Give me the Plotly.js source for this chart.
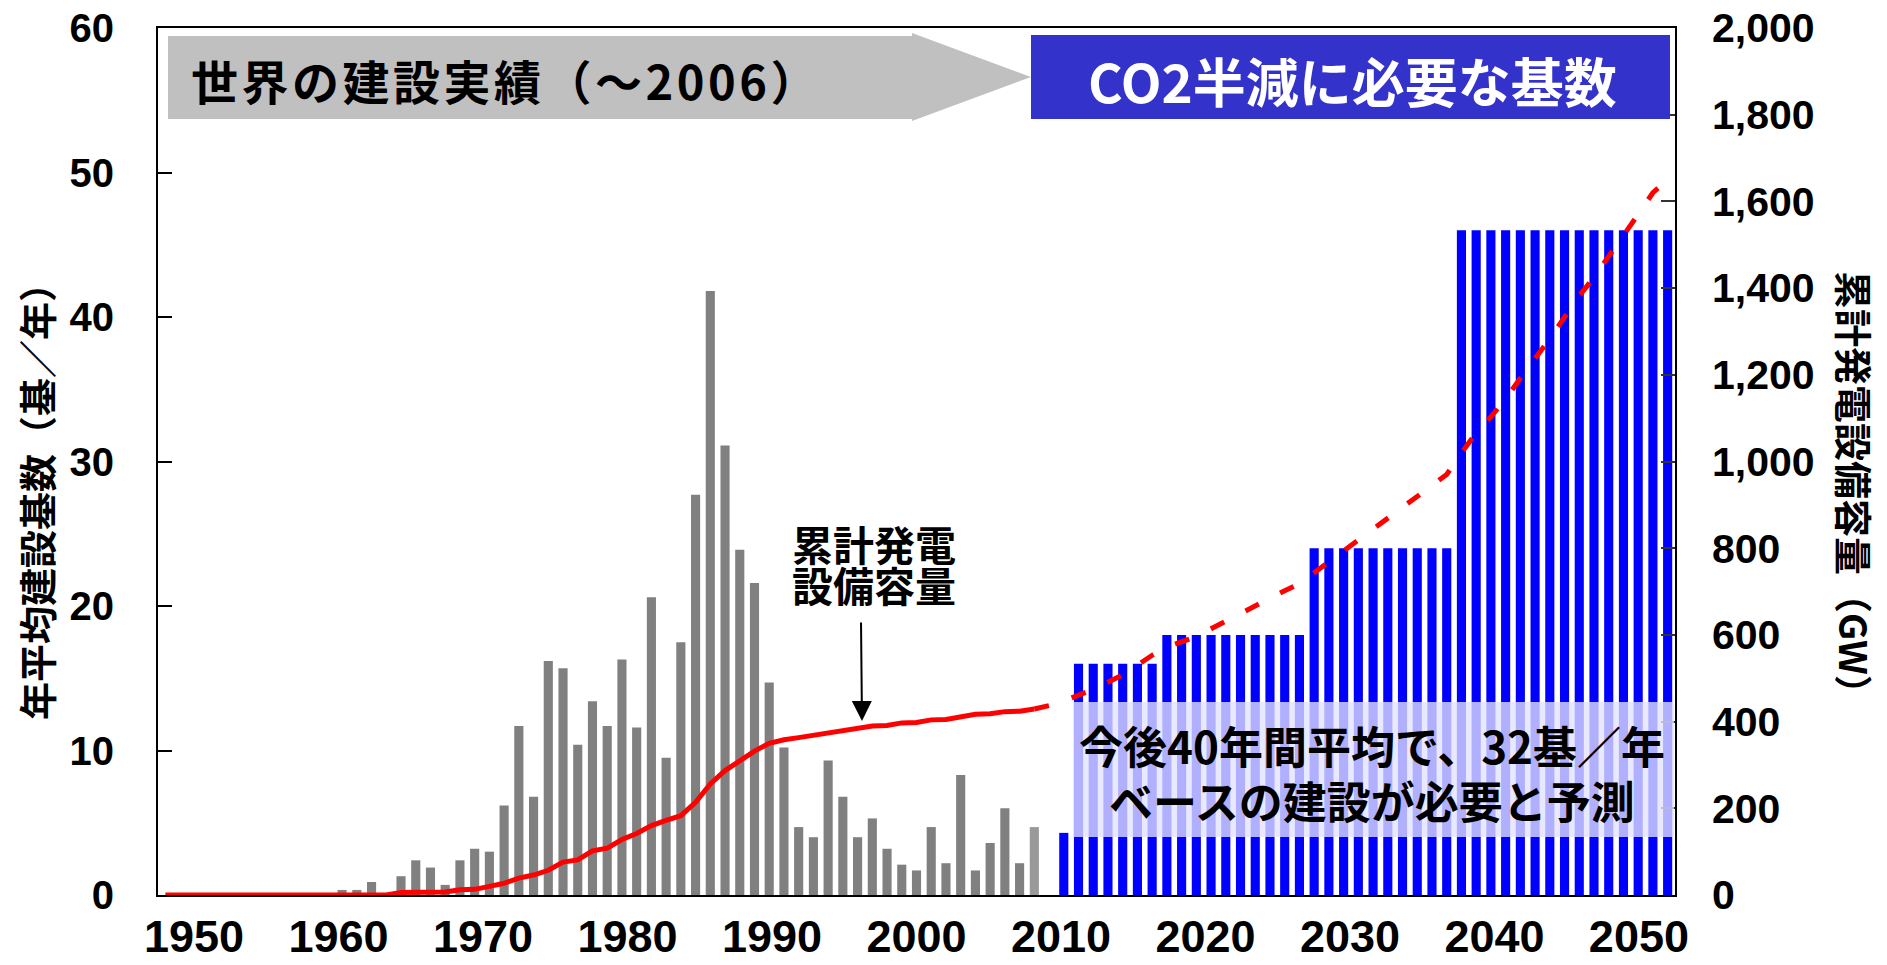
<!DOCTYPE html>
<html>
<head>
<meta charset="utf-8">
<script src="https://cdn.plot.ly/plotly-3.0.1.min.js"></script>
<style>
  html, body { margin: 0; padding: 0; background: #ffffff; }
  #chart { width: 1887px; height: 965px; }
</style>
</head>
<body>
<div id="chart"></div>
<script>
// ---------- data ----------
const actualYears = [1960,1961,1962,1963,1964,1965,1966,1967,1968,1969,
  1970,1971,1972,1973,1974,1975,1976,1977,1978,1979,
  1980,1981,1982,1983,1984,1985,1986,1987,1988,1989,
  1990,1991,1992,1993,1994,1995,1996,1997,1998,1999,
  2000,2001,2002,2003,2004,2005,2006,2007];
const actualUnits = [0.35,0.35,0.9,0,1.3,2.4,1.9,0.7,2.4,3.2,
  3.0,6.2,11.7,6.8,16.2,15.7,10.4,13.4,11.7,16.3,
  11.6,20.6,9.5,17.5,27.7,41.8,31.1,23.9,21.6,14.7,
  10.2,4.7,4.0,9.3,6.8,4.0,5.3,3.2,2.1,1.7,
  4.7,2.2,8.3,1.7,3.6,6.0,2.2,4.7];

const planYears = [2009,2010,2011,2012,2013,2014,2015,2016,2017,2018,2019,
  2020,2021,2022,2023,2024,2025,2026,2027,2028,2029,
  2030,2031,2032,2033,2034,2035,2036,2037,2038,2039,
  2040,2041,2042,2043,2044,2045,2046,2047,2048,2049,2050];
const planUnits = [4.3,16,16,16,16,16,16,18,18,18,18,
  18,18,18,18,18,18,24,24,24,24,
  24,24,24,24,24,24,46,46,46,46,
  46,46,46,46,46,46,46,46,46,46,46];

const capYears = [1948,1949,1950,1951,1952,1953,1954,1955,1956,1957,1958,1959,
  1960,1961,1962,1963,1964,1965,1966,1967,1968,1969,
  1970,1971,1972,1973,1974,1975,1976,1977,1978,1979,
  1980,1981,1982,1983,1984,1985,1986,1987,1988,1989,
  1990,1991,1992,1993,1994,1995,1996,1997,1998,1999,
  2000,2001,2002,2003,2004,2005,2006,2007];
const capGW = [0,0,0,0,0,0,0,0,0,0,0,0,
  0,0,0,0,6,6,6,7,12,13,
  20,27,39,46,57,76,81,102,108,128,
  142,160,172,183,214,256,287,310,332,350,
  358,363,368,373,378,384,390,391,397,398,
  404,405,411,417,418,423,424,429];

const forecastYears = [2007,2008,2009,2010,2011,2012,2013,2014,2015,2016,2017,2018,2019,
  2020,2021,2022,2023,2024,2025,2026,2027,2028,2029,
  2030,2031,2032,2033,2034,2035,2036,2037,2038,2039,
  2040,2041,2042,2043,2044,2045,2046,2047,2048,2049,2050];
const forecastGW = [429,437,448,461,474,491,508,530,553,572,584,596,614,
  632,650,667,685,702,718,743,767,792,817,
  843,869,894,920,945,970,1020,1066,1103,1145,
  1192,1237,1283,1333,1382,1425,1472,1520,1570,1620,1650];

const xTickText = ['1950','1960','1970','1980','1990','2000','2010','2020','2030','2040','2050'];

// ---------- geometry helpers (pixel -> paper) ----------
const L = 158, R = 1675, T = 28, B = 895;
const px = x => (x - L) / (R - L);
const py = y => (B - y) / (B - T);

// the reference's year labels are spread slightly tighter than the bar categories
const LABEL_START = 1949.95, LABEL_STEP = 9.81;
const xTickPos = xTickText.map((t, i) => LABEL_START + i * LABEL_STEP);

const JP = '"Noto Sans CJK JP", "Noto Sans", sans-serif';
const NUM = '"Liberation Sans", Arial, sans-serif';

const grayColors = actualYears.map(y => y === 2007 ? '#999999' : '#808080');

const traces = [
  { type: 'bar', x: actualYears, y: actualUnits, width: 0.62,
    marker: { color: grayColors, line: { width: 0 } }, hoverinfo: 'skip', yaxis: 'y' },
  { type: 'bar', x: planYears, y: planUnits, width: 0.62,
    marker: { color: '#0000FF', line: { width: 0 } }, hoverinfo: 'skip', yaxis: 'y' },
  { type: 'scatter', mode: 'lines', x: capYears, y: capGW, yaxis: 'y2',
    line: { color: '#FF0000', width: 5 }, hoverinfo: 'skip' },
  { type: 'scatter', mode: 'lines', x: forecastYears, y: forecastGW, yaxis: 'y2',
    line: { color: '#FF0000', width: 5, dash: '15px,24px' }, hoverinfo: 'skip' }
];

const grayArrowPath = 'M ' + px(168) + ',' + py(36) +
  ' L ' + px(912) + ',' + py(36) +
  ' L ' + px(912) + ',' + py(33) +
  ' L ' + px(1031) + ',' + py(77) +
  ' L ' + px(912) + ',' + py(121) +
  ' L ' + px(912) + ',' + py(119) +
  ' L ' + px(168) + ',' + py(119) + ' Z';

const layout = {
  width: 1887, height: 965,
  margin: { l: L, r: 1887 - R, t: T, b: 965 - B, pad: 0 },
  paper_bgcolor: '#ffffff', plot_bgcolor: '#ffffff',
  showlegend: false,
  barmode: 'overlay',
  xaxis: {
    range: [1947.5, 2050.5], showgrid: false, zeroline: false,
    showline: true, linecolor: '#000000', linewidth: 2, mirror: true,
    ticks: '', tickmode: 'array', tickvals: xTickPos, ticktext: xTickText,
    tickfont: { family: NUM, size: 45, color: '#000000', weight: 700 },
    ticklabelstandoff: 1
  },
  yaxis: {
    range: [0, 60], dtick: 10, tick0: 0, showgrid: false, zeroline: false,
    showline: true, linecolor: '#000000', linewidth: 2, mirror: true,
    ticks: 'inside', ticklen: 14, tickwidth: 2, tickcolor: '#000000',
    tickfont: { family: NUM, size: 40, color: '#000000', weight: 700 },
    ticklabelstandoff: 34
  },
  yaxis2: {
    overlaying: 'y', side: 'right', range: [0, 2000], dtick: 200, tick0: 0,
    showgrid: false, zeroline: false, showline: false,
    ticks: 'inside', ticklen: 14, tickwidth: 2, tickcolor: '#333333',
    tickformat: ',d',
    tickfont: { family: NUM, size: 41, color: '#000000', weight: 700 },
    ticklabelstandoff: 36
  },
  shapes: [
    { type: 'path', xref: 'paper', yref: 'paper', path: grayArrowPath,
      fillcolor: '#C0C0C0', line: { width: 0 }, layer: 'above' },
    { type: 'rect', xref: 'paper', yref: 'paper', x0: px(1031), x1: px(1670), y0: py(119), y1: py(35),
      fillcolor: '#3333CC', line: { width: 0 }, layer: 'above' },
    { type: 'rect', xref: 'paper', yref: 'paper', x0: px(1073), x1: px(1674), y0: py(837), y1: py(702),
      fillcolor: 'rgba(226,226,255,0.78)', line: { width: 0 }, layer: 'above' }
  ],
  annotations: [
    { xref: 'paper', yref: 'paper', x: px(189), y: py(79), xanchor: 'left', yanchor: 'middle',
      text: '<span style="letter-spacing:3.5px">世界の建設実績（～2006）</span>', showarrow: false,
      font: { family: JP, size: 47, color: '#000000', weight: 700 } },
    { xref: 'paper', yref: 'paper', x: px(1352), y: py(80), xanchor: 'center', yanchor: 'middle',
      text: 'CO2半減に必要な基数', showarrow: false,
      font: { family: JP, size: 53, color: '#FFFFFF', weight: 700 } },
    { xref: 'paper', yref: 'paper', x: px(874), y: py(543), xanchor: 'center', yanchor: 'middle',
      text: '累計発電', showarrow: false,
      font: { family: JP, size: 41, color: '#000000', weight: 700 } },
    { xref: 'paper', yref: 'paper', x: px(874), y: py(584), xanchor: 'center', yanchor: 'middle',
      text: '設備容量', showarrow: false,
      font: { family: JP, size: 41, color: '#000000', weight: 700 } },
    { xref: 'paper', yref: 'paper', x: px(862), y: py(721), text: '', showarrow: true,
      ax: -1, ay: -100, arrowhead: 2, arrowsize: 2, arrowwidth: 2, arrowcolor: '#000000' },
    { xref: 'paper', yref: 'paper', x: px(1372), y: py(745), xanchor: 'center', yanchor: 'middle',
      text: '今後40年間平均で、32基／年', showarrow: false,
      font: { family: JP, size: 44, color: '#000000', weight: 700 } },
    { xref: 'paper', yref: 'paper', x: px(1372), y: py(800), xanchor: 'center', yanchor: 'middle',
      text: 'ベースの建設が必要と予測', showarrow: false,
      font: { family: JP, size: 44, color: '#000000', weight: 700 } },
    { xref: 'paper', yref: 'paper', x: px(35), y: py(492), xanchor: 'center', yanchor: 'middle',
      text: '年平均建設基数（基／年）', showarrow: false, textangle: -90,
      font: { family: JP, size: 38, color: '#000000', weight: 700 } },
    { xref: 'paper', yref: 'paper', x: px(1856), y: py(492), xanchor: 'center', yanchor: 'middle',
      text: '累計発電設備容量（GW）', showarrow: false, textangle: 90,
      font: { family: JP, size: 38, color: '#000000', weight: 700 } }
  ]
};

Plotly.newPlot('chart', traces, layout, { displayModeBar: false, staticPlot: true });
</script>
</body>
</html>
